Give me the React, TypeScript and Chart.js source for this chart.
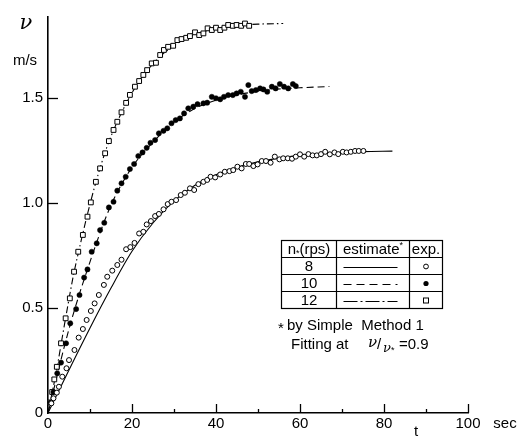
import React, { useEffect, useRef } from "react";
import { Chart, registerables } from "chart.js";

Chart.register(...registerables);

// ---- data ----
const xTickValues = [0, 20, 40, 60, 80, 100];
const yTickLabels = ["0", "0.5", "1.0", "1.5"];
const speedLabels = ["8", "10", "12"];

// estimated curves (t [s], v [m/s])
const estT8 = [0, 5, 10, 15, 20, 25, 30, 35, 40, 45, 50, 55, 60, 65, 70, 75, 82];
const estV8 = [0, 0.205, 0.405, 0.595, 0.77, 0.905, 1.01, 1.085, 1.135, 1.17, 1.196, 1.214, 1.227, 1.235, 1.241, 1.245, 1.247];

const estT10 = [0, 5, 10, 15, 20, 25, 30, 35, 40, 45, 50, 55, 60, 67];
const estV10 = [0, 0.4, 0.72, 0.99, 1.17, 1.29, 1.385, 1.45, 1.49, 1.515, 1.532, 1.543, 1.549, 1.555];

const estT12 = [0, 2, 4, 6, 8, 10, 12, 14, 16, 18, 20, 22, 24, 26, 28, 30, 33, 36, 40, 45, 50, 56];
const estV12 = [0, 0.2, 0.43, 0.65, 0.83, 0.995, 1.14, 1.265, 1.365, 1.45, 1.525, 1.59, 1.64, 1.685, 1.72, 1.75, 1.785, 1.81, 1.83, 1.845, 1.852, 1.855];

// experimental points [t, v]
const exp8: [number, number][] = [
  [0.8, 0.046], [1.3, 0.07], [2.1, 0.097], [2.6, 0.125], [3.4, 0.173], [4.4, 0.213], [5.0, 0.252],
  [6.3, 0.3], [7.3, 0.359], [8.3, 0.4], [9.2, 0.443], [10.2, 0.486], [11.1, 0.522], [12.1, 0.562],
  [13.3, 0.61], [14.1, 0.649], [15.3, 0.678], [16.5, 0.705], [17.5, 0.73], [18.6, 0.78], [19.6, 0.79],
  [20.6, 0.81], [21.7, 0.855], [22.7, 0.863], [23.5, 0.898], [24.5, 0.914], [25.5, 0.938], [26.4, 0.948],
  [27.5, 0.97], [28.5, 0.995], [29.4, 1.006], [30.5, 1.014], [31.6, 1.038], [32.6, 1.049], [33.8, 1.07],
  [34.8, 1.062], [35.8, 1.09], [37.0, 1.101], [37.9, 1.11], [38.7, 1.125], [39.8, 1.122], [41.0, 1.136],
  [42.1, 1.149], [43.2, 1.152], [44.1, 1.157], [45.1, 1.173], [46.1, 1.165], [47.1, 1.186], [47.9, 1.186],
  [48.9, 1.176], [49.9, 1.184], [50.9, 1.2], [51.9, 1.2], [53.0, 1.192], [54.0, 1.221], [55.1, 1.208],
  [56.0, 1.213], [57.1, 1.213], [58.1, 1.211], [59.0, 1.221], [60.0, 1.232], [61.0, 1.221], [62.0, 1.233],
  [63.0, 1.227], [64.0, 1.227], [65.0, 1.233], [66.0, 1.244], [67.1, 1.232], [68.2, 1.241], [69.1, 1.233],
  [70.2, 1.244], [71.1, 1.241], [72.1, 1.244], [73.1, 1.248], [74.0, 1.248], [75.1, 1.248],
];

const exp10: [number, number][] = [
  [0.6, 0.05], [1.3, 0.1], [2.2, 0.189], [3.1, 0.24], [4.3, 0.332], [5.3, 0.427], [6.7, 0.495],
  [7.5, 0.562], [8.6, 0.645], [9.4, 0.684], [10.4, 0.768], [11.6, 0.808], [12.4, 0.871], [13.4, 0.906],
  [14.5, 0.979], [15.6, 1.006], [16.5, 1.059], [17.5, 1.094], [18.5, 1.125], [19.5, 1.162], [20.5, 1.186],
  [21.5, 1.224], [22.5, 1.241], [23.5, 1.263], [24.4, 1.287], [25.5, 1.3], [26.4, 1.332], [27.5, 1.344],
  [28.4, 1.356], [29.4, 1.38], [30.4, 1.395], [31.4, 1.403], [32.4, 1.427], [33.4, 1.451], [34.6, 1.459],
  [35.6, 1.471], [37.0, 1.475], [37.9, 1.478], [39.0, 1.506], [40.0, 1.499], [41.0, 1.494], [41.9, 1.506],
  [42.9, 1.514], [44.0, 1.514], [44.9, 1.522], [45.9, 1.53], [46.9, 1.506], [47.7, 1.562], [48.5, 1.533],
  [49.5, 1.538], [50.5, 1.546], [51.3, 1.541], [52.2, 1.53], [53.3, 1.554], [54.2, 1.546], [55.2, 1.567],
  [56.2, 1.554], [57.2, 1.546], [58.3, 1.567], [59.0, 1.557],
];

const exp12: [number, number][] = [
  [0.5, 0.05], [1.0, 0.1], [1.5, 0.16], [2.1, 0.22], [3.1, 0.332], [4.2, 0.451], [5.2, 0.546],
  [6.2, 0.673], [7.2, 0.768], [8.3, 0.848], [9.4, 0.935], [10.2, 1.003], [11.4, 1.101], [12.4, 1.165],
  [13.6, 1.237], [14.5, 1.295], [15.6, 1.348], [16.5, 1.387], [17.5, 1.432], [18.6, 1.477], [19.5, 1.515],
  [20.7, 1.554], [21.7, 1.581], [22.7, 1.61], [23.6, 1.633], [24.7, 1.665], [25.7, 1.668], [26.7, 1.705],
  [27.6, 1.729], [28.6, 1.744], [29.8, 1.749], [30.8, 1.776], [31.8, 1.781], [32.9, 1.787], [33.8, 1.795],
  [35.0, 1.813], [36.0, 1.8], [37.0, 1.808], [38.0, 1.832], [39.0, 1.824], [40.0, 1.835], [41.0, 1.824],
  [42.0, 1.835], [42.9, 1.848], [44.0, 1.844], [44.9, 1.848], [46.0, 1.844], [46.9, 1.855], [47.9, 1.844],
];

const FONT = '"Liberation Sans", "DejaVu Sans", sans-serif';
const SOLID: number[] = [];
const DASHED = [7, 4];
const DASHDOT = [7, 3, 1.5, 3];
const LEGEND_DASHES = [[], [8, 5], [14, 3, 2, 3]];

const decor = {
  id: "decor",
  afterDraw(chart: any) {
    const { ctx } = chart;
    const xs = chart.scales.x;
    const ys = chart.scales.y;
    const ca = chart.chartArea;
    ctx.save();
    ctx.strokeStyle = "#000";
    ctx.fillStyle = "#000";
    ctx.lineWidth = 1.3;
    // inward ticks on x axis
    xs.ticks.forEach((tk: any) => {
      if (tk.value === 0) return;
      const px = Math.round(xs.getPixelForValue(tk.value)) + 0.5;
      const len = tk.value % 20 === 0 ? 9 : 4;
      ctx.beginPath();
      ctx.moveTo(px, ca.bottom);
      ctx.lineTo(px, ca.bottom - len);
      ctx.stroke();
    });
    // inward ticks on y axis
    ys.ticks.forEach((tk: any) => {
      if (tk.value === 0) return;
      const py = Math.round(ys.getPixelForValue(tk.value)) + 0.5;
      ctx.beginPath();
      ctx.moveTo(ca.left, py);
      ctx.lineTo(ca.left + 10, py);
      ctx.stroke();
    });

    // axis titles
    ctx.textAlign = "center";
    ctx.textBaseline = "middle";
    ctx.font = 'italic 21px "DejaVu Serif", serif';
    ctx.fillText("ν", 26, 24);
    ctx.font = `15px ${FONT}`;
    ctx.fillText("m/s", 25, 61);
    ctx.fillText("t", 416, 432);
    ctx.fillText("sec", 505, 424);

    // table
    const L = 281.5, R = 442.5, c1 = 336.5, c2 = 409.5;
    const rows = [240.5, 257.5, 274.5, 291.5, 308.5];
    ctx.lineWidth = 1.2;
    ctx.setLineDash([]);
    ctx.strokeRect(L, rows[0], R - L, rows[4] - rows[0]);
    ctx.beginPath();
    [c1, c2].forEach((cx) => { ctx.moveTo(cx, rows[0]); ctx.lineTo(cx, rows[4]); });
    rows.slice(1, 4).forEach((ry) => { ctx.moveTo(L, ry); ctx.lineTo(R, ry); });
    ctx.stroke();

    const hy = (rows[0] + rows[1]) / 2 + 0.5;
    // header col 1: n*(rps)
    ctx.font = `15px ${FONT}`;
    const wN = ctx.measureText("n").width;
    const wR = ctx.measureText("(rps)").width;
    ctx.font = `9px ${FONT}`;
    const wS = ctx.measureText("*").width;
    let sx = (L + c1) / 2 - (wN + wS + wR) / 2;
    ctx.textAlign = "left";
    ctx.font = `15px ${FONT}`;
    ctx.fillText("n", sx, hy);
    ctx.font = `9px ${FONT}`;
    ctx.fillText("*", sx + wN, hy + 4);
    ctx.font = `15px ${FONT}`;
    ctx.fillText("(rps)", sx + wN + wS, hy);
    // header col 2: estimate*
    const wE = ctx.measureText("estimate").width;
    sx = (c1 + c2) / 2 - (wE + wS) / 2;
    ctx.fillText("estimate", sx, hy);
    ctx.font = `9px ${FONT}`;
    ctx.fillText("*", sx + wE, hy - 4);
    ctx.font = `15px ${FONT}`;
    ctx.textAlign = "center";
    ctx.fillText("exp.", (c2 + R) / 2, hy);

    speedLabels.forEach((lab, i) => {
      const cy = (rows[i + 1] + rows[i + 2]) / 2 + 0.5;
      ctx.fillText(lab, (L + c1) / 2, cy);
      ctx.setLineDash(LEGEND_DASHES[i]);
      ctx.lineWidth = 1.1;
      ctx.beginPath();
      ctx.moveTo(c1 + 7, Math.round(cy) + 0.5);
      ctx.lineTo(c2 - 12, Math.round(cy) + 0.5);
      ctx.stroke();
      ctx.setLineDash([]);
      const mx = (c2 + R) / 2;
      ctx.lineWidth = 1;
      if (i === 0) {
        ctx.beginPath(); ctx.arc(mx, cy, 2.4, 0, Math.PI * 2); ctx.stroke();
      } else if (i === 1) {
        ctx.beginPath(); ctx.arc(mx, cy, 2.6, 0, Math.PI * 2); ctx.fill();
      } else {
        ctx.strokeRect(mx - 2.5, cy - 2.5, 5, 5);
      }
    });

    // footnote
    ctx.textAlign = "left";
    ctx.font = `15px ${FONT}`;
    ctx.fillText("*", 278, 329);
    ctx.fillText("by Simple  Method 1", 287, 326);
    ctx.fillText("Fitting at", 291, 345);
    ctx.font = 'italic 15px "DejaVu Serif", serif';
    ctx.fillText("ν", 368, 343);
    ctx.font = `15px ${FONT}`;
    ctx.fillText("/", 377, 345);
    ctx.font = 'italic 13px "DejaVu Serif", serif';
    ctx.fillText("ν", 383, 349);
    ctx.font = `9px ${FONT}`;
    ctx.fillText("*", 391, 351);
    ctx.font = `15px ${FONT}`;
    ctx.fillText("=0.9", 399, 345);
    ctx.restore();
  },
};

export default function App() {
  const ref = useRef<HTMLCanvasElement>(null);
  useEffect(() => {
    const canvas = ref.current!;
    const pairs = (arr: [number, number][]) => arr.map(([t, v]) => ({ x: t, y: v }));
    const line = (ts: number[], vs: number[]) => ts.map((t, i) => ({ x: t, y: vs[i] }));
    const lineDs = (data: any[], dash: number[]) => ({
      data,
      showLine: true,
      borderColor: "#000",
      borderWidth: 1.1,
      borderDash: dash,
      pointRadius: 0,
      cubicInterpolationMode: "monotone",
      fill: false,
      clip: false,
    });
    const chart = new Chart(canvas, {
      type: "scatter",
      data: {
        datasets: [
          {
            data: pairs(exp8), pointStyle: "circle", pointRadius: 2.5,
            pointBackgroundColor: "#fff", pointBorderColor: "#000", pointBorderWidth: 1, clip: false,
          },
          {
            data: pairs(exp10), pointStyle: "circle", pointRadius: 2.6,
            pointBackgroundColor: "#000", pointBorderColor: "#000", pointBorderWidth: 0.5, clip: false,
          },
          {
            data: pairs(exp12), pointStyle: "rect", pointRadius: 3.4,
            pointBackgroundColor: "#fff", pointBorderColor: "#000", pointBorderWidth: 1, clip: false,
          },
          lineDs(line(estT8, estV8), SOLID),
          lineDs(line(estT10, estV10), DASHED),
          lineDs(line(estT12, estV12), DASHDOT),
        ] as any,
      },
      options: {
        responsive: false,
        animation: false,
        devicePixelRatio: 1,
        layout: { padding: { top: 17, right: 61, left: 0, bottom: 0 } },
        plugins: { legend: { display: false }, tooltip: { enabled: false } },
        scales: {
          x: {
            type: "linear",
            min: 0,
            max: 100,
            grid: { display: false, drawTicks: false },
            border: { display: true, color: "#000", width: 1.6 },
            ticks: {
              stepSize: 10,
              autoSkip: false,
              maxRotation: 0,
              padding: 2,
              color: "#000",
              font: { size: 15, family: FONT },
              callback: (v: any) => (xTickValues.includes(Number(v)) ? String(v) : ""),
            },
            afterFit: (s: any) => { s.height = 26; },
          },
          y: {
            type: "linear",
            min: 0,
            max: 1.886,
            grid: { display: false, drawTicks: false },
            border: { display: true, color: "#000", width: 1.6 },
            afterBuildTicks: (s: any) => {
              s.ticks = s.ticks.filter((t: any) => Math.abs(t.value * 2 - Math.round(t.value * 2)) < 1e-6);
            },
            ticks: {
              stepSize: 0.5,
              autoSkip: false,
              padding: 5,
              color: "#000",
              font: { size: 15, family: FONT },
              callback: (v: any) => yTickLabels[Math.round(Number(v) * 2)] ?? "",
            },
            afterFit: (s: any) => { s.width = 48; },
          },
        },
      } as any,
      plugins: [decor],
    });
    return () => chart.destroy();
  }, []);
  return (
    <canvas
      ref={ref}
      width={529}
      height={439}
      style={{ position: "fixed", left: 0, top: 0, display: "block", background: "#fff" }}
    />
  );
}
